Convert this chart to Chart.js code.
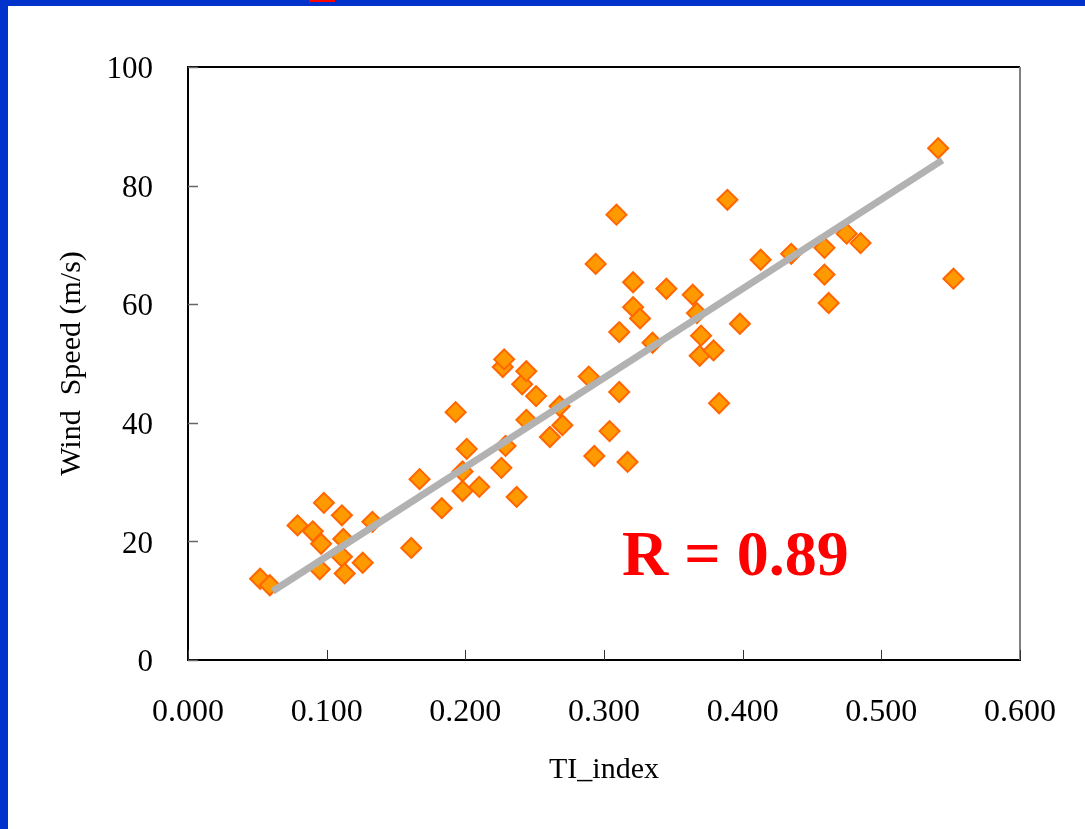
<!DOCTYPE html>
<html><head><meta charset="utf-8">
<script src="https://cdn.jsdelivr.net/npm/chart.js@4/dist/chart.umd.min.js"></script>
<style>
html,body{margin:0;padding:0;background:#fff;}
#wrap{position:relative;width:1085px;height:829px;overflow:hidden;background:#fff;}
#bl{position:absolute;left:0;top:0;width:8px;height:829px;background:#0033cc;}
#bt{position:absolute;left:0;top:0;width:1085px;height:6px;background:#0033cc;}
#rm{position:absolute;left:309px;top:0;width:26px;height:2px;background:#ff0000;}
canvas{position:absolute;left:0;top:0;}
</style></head><body>
<div id="wrap"><canvas id="c" width="1085" height="829"></canvas><div id="bl"></div><div id="bt"></div><div id="rm"></div></div>
<script>
// ---- data ----
const tiIndex = [0.052,0.059,0.079,0.090,0.098,0.096,0.095,0.111,0.112,0.111,0.113,0.126,0.133,0.161,0.167,0.183,0.193,0.198,0.198,0.201,0.210,0.226,0.227,0.228,0.229,0.237,0.241,0.244,0.244,0.251,0.261,0.268,0.270,0.289,0.293,0.294,0.304,0.309,0.311,0.311,0.317,0.321,0.321,0.326,0.335,0.345,0.364,0.367,0.369,0.370,0.379,0.383,0.389,0.398,0.413,0.435,0.459,0.459,0.462,0.475,0.485,0.541,0.552];
const windSpeed = [13.7,12.6,22.7,21.7,26.5,19.6,15.3,24.4,20.4,17.4,14.6,16.4,23.3,18.9,30.5,25.6,41.8,31.8,28.5,35.6,29.2,32.4,49.4,50.7,36.1,27.5,46.5,48.7,40.5,44.5,37.6,42.8,39.6,47.8,34.4,66.8,38.6,75.1,55.3,45.2,33.4,59.5,63.7,57.6,53.5,62.6,61.6,58.5,51.3,54.7,52.2,43.3,77.6,56.7,67.5,68.5,69.5,65.0,60.2,71.9,70.3,86.3,64.3];
const trendX = [0.061, 0.544];
const trendY = [11.6, 84.3];
const xTicks = [0, 0.1, 0.2, 0.3, 0.4, 0.5, 0.6];
const yTicks = [0, 20, 40, 60, 80, 100];
const xTitle = 'TI_index';
const yTitle = 'Wind  Speed (m/s)';
const rText = 'R = 0.89';
const rPos = [0.313, 14.3];

const FONT = '"Liberation Serif", "Times New Roman", serif';

const pts = tiIndex.map((x, i) => ({x: x, y: windSpeed[i]}));
const trend = trendX.map((x, i) => ({x: x, y: trendY[i]}));

const decor = {
  id: 'decor',
  afterDraw(chart) {
    const ctx = chart.ctx;
    const xs = chart.scales.x, ys = chart.scales.y;
    const a = chart.chartArea;
    ctx.save();
    // top and right frame
    ctx.lineWidth = 2;
    ctx.strokeStyle = '#000';
    ctx.beginPath(); ctx.moveTo(a.left, a.top); ctx.lineTo(a.right, a.top); ctx.stroke();
    ctx.strokeStyle = '#808080';
    ctx.beginPath(); ctx.moveTo(a.right, a.top); ctx.lineTo(a.right, a.bottom); ctx.stroke();
    // inward tick marks
    ctx.lineWidth = 1.5;
    ctx.strokeStyle = '#666';
    yTicks.forEach(v => {
      const y = Math.round(ys.getPixelForValue(v)) + 0.5;
      ctx.beginPath(); ctx.moveTo(a.left, y); ctx.lineTo(a.left + 10, y); ctx.stroke();
    });
    ctx.strokeStyle = '#333';
    ctx.lineWidth = 1;
    xTicks.forEach(v => {
      const x = Math.round(xs.getPixelForValue(v)) + 0.5;
      ctx.beginPath(); ctx.moveTo(x, a.bottom); ctx.lineTo(x, a.bottom - 10); ctx.stroke();
    });
    // R label
    ctx.fillStyle = '#ff0000';
    ctx.font = 'bold 64px ' + FONT;
    ctx.textBaseline = 'alphabetic';
    ctx.textAlign = 'left';
    ctx.fillText(rText, xs.getPixelForValue(rPos[0]), ys.getPixelForValue(rPos[1]));
    ctx.restore();
  }
};

new Chart(document.getElementById('c'), {
  type: 'scatter',
  data: {
    datasets: [
      {
        label: 'trend',
        data: trend,
        showLine: true,
        borderColor: '#b2b2b2',
        borderWidth: 7,
        borderCapStyle: 'butt',
        pointRadius: 0,
        pointHoverRadius: 0,
        fill: false,
        order: 0
      },
      {
        label: 'points',
        data: pts,
        pointStyle: 'rectRot',
        pointRadius: 10,
        pointHoverRadius: 10,
        backgroundColor: '#ff9900',
        borderColor: '#ff6600',
        borderWidth: 2,
        order: 1
      }
    ]
  },
  options: {
    responsive: false,
    animation: false,
    events: [],
    layout: {padding: {left: 0, right: 65, top: 67, bottom: 0}},
    plugins: {legend: {display: false}, tooltip: {enabled: false}},
    scales: {
      x: {
        type: 'linear',
        min: 0, max: 0.6,
        afterFit(s) { s.height = 169; },
        afterBuildTicks(s) { s.ticks = xTicks.map(v => ({value: v})); },
        grid: {display: false},
        border: {display: true, color: '#000', width: 2},
        ticks: {
          color: '#000',
          font: {family: FONT, size: 32},
          padding: 25,
          maxRotation: 0,
          callback: v => Number(v).toFixed(3)
        },
        title: {display: true, text: xTitle, color: '#000', font: {family: FONT, size: 30}, padding: {top: 0, bottom: 41}}
      },
      y: {
        type: 'linear',
        min: 0, max: 100,
        afterFit(s) { s.width = 188; },
        afterBuildTicks(s) { s.ticks = yTicks.map(v => ({value: v})); },
        grid: {display: false},
        border: {display: true, color: '#000', width: 2},
        ticks: {
          color: '#000',
          font: {family: FONT, size: 31},
          padding: 27,
          labelOffset: 3,
          callback: v => String(v)
        },
        title: {display: true, text: yTitle, color: '#000', font: {family: FONT, size: 30}, padding: {top: 54, bottom: 0}}
      }
    }
  },
  plugins: [decor]
});
</script>
</body></html>
